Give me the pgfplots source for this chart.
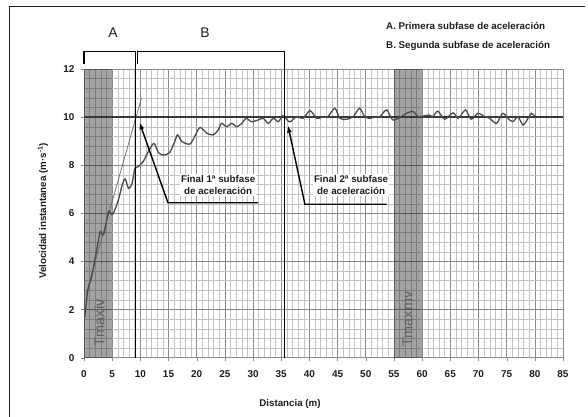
\documentclass[border=0pt]{standalone}
\usepackage{pgfplots}
\pgfplotsset{compat=1.18}
\usepackage{fontspec}
\setmainfont{Liberation Sans}
\usetikzlibrary{arrows.meta}
\definecolor{curve}{HTML}{4A4A4A}
\definecolor{majgrid}{HTML}{8C8C8C}
\definecolor{mingrid}{HTML}{C4C4C4}
\definecolor{txt}{HTML}{1E1E1E}
\begin{document}
\begin{tikzpicture}
\useasboundingbox (-84bp,-59.3bp) rectangle (504bp,357.7bp);
\draw[line width=1bp, color=txt] (-74bp,-59.3bp) -- (-74bp,350.7bp) -- (501bp,350.7bp);
\begin{axis}[
  at={(0,0)}, anchor=south west,
  scale only axis, width=479bp, height=288.7bp,
  xmin=0, xmax=85, ymin=0, ymax=12,
  xtick distance=5, ytick distance=2,
  minor x tick num=4, minor y tick num=4,
  grid=both,
  major grid style={color=majgrid, line width=0.6bp},
  minor grid style={color=mingrid, line width=0.45bp},
  axis line style={color=majgrid, line width=0.6bp},
  tick align=outside, major tick length=3bp, minor tick length=0pt,
  xtick pos=bottom, ytick pos=left,
  tick style={color=majgrid},
  /pgf/number format/assume math mode=true,
  tick label style={font=\fontsize{10}{12}\selectfont\bfseries, color=txt},
  xticklabel style={yshift=-6.5bp},
  yticklabel style={xshift=-3bp},
  clip=false,
]
% shaded bands
\addplot[draw=none, fill=black, fill opacity=0.36] coordinates {(0,0) (0,12) (5,12) (5,0)} -- cycle;
\addplot[draw=none, fill=black, fill opacity=0.36] coordinates {(55,0) (55,12) (60,12) (60,0)} -- cycle;
\node[rotate=90, color=black!62, font=\fontsize{14.5}{16}\selectfont] at (axis cs:2.7,1.45) {Tmaxiv};
\node[rotate=90, color=black!62, font=\fontsize{14.5}{16}\selectfont] at (axis cs:57.4,1.6) {Tmaxmv};
% reference line at 10
\addplot[color=black!78, line width=1.3bp] coordinates {(0,10) (85,10)};
% tangent line
\addplot[color=black!60, line width=0.7bp] coordinates {(0.3,2.6) (10.2,10.8)};
% velocity curve
\addplot[color=curve, line width=1.3bp, smooth, tension=0.45] coordinates {
(0.15,1.7) (0.6,2.68) (1.0,3.1) (1.4,3.4) (1.95,4.1) (2.5,4.8) (2.9,5.25) (3.3,5.1)
(3.6,5.2) (4.0,5.7) (4.4,6.1) (4.9,5.95) (5.3,6.05) (6.1,6.55) (6.8,7.2) (7.3,7.43)
(7.9,7.04) (8.45,7.18) (8.75,7.52) (9.04,7.87) (9.6,7.94) (10.5,8.15) (11.4,8.56)
(12.4,8.91) (13.2,8.53) (14.1,8.42) (15.2,8.53) (16.1,8.98) (16.6,9.26) (17.4,8.98)
(18.8,8.88) (19.7,9.22) (20.6,9.57) (21.8,9.33) (22.9,9.26) (23.8,9.46) (24.4,9.74)
(25.3,9.6) (26.2,9.74) (27.1,9.6) (28.0,9.74) (28.8,9.95) (29.7,9.81) (30.9,9.88)
(31.8,9.95) (32.7,9.74) (33.6,9.95) (34.5,9.81) (35.3,10.06) (36.5,9.8) (37.7,10.02)
(38.9,9.95) (40.1,10.27) (41.3,9.95) (42.3,10.0) (43.3,10.02) (44.5,10.37) (45.4,9.95)
(46.6,9.91) (47.8,10.02) (48.9,10.37) (49.8,10.02) (50.7,9.95) (51.6,10.0) (52.5,10.02)
(53.7,10.3) (54.8,9.88) (56.3,10.02) (57.2,10.16) (58.4,10.23) (59.3,10.02) (60.3,10.05)
(61.3,10.09) (61.9,10.02) (62.8,10.25) (64.0,9.91) (65.5,10.18) (66.4,9.95) (67.7,10.3)
(68.7,9.91) (69.9,10.16) (71.1,10.02) (72.0,9.95) (73.2,9.74) (74.3,10.16) (75.2,9.95)
(76.1,9.81) (77.0,10.02) (77.9,9.67) (78.8,9.95) (79.4,10.16) (80.0,10.04)
};
% phase lines and brackets
\draw[line width=1.5bp, color=black] (axis cs:0,12.2) -- (axis cs:0,12.72) -- (axis cs:9.15,12.72) -- (axis cs:9.15,0);
\draw[line width=1.5bp, color=black] (axis cs:9.5,12.2) -- (axis cs:9.5,12.72) -- (axis cs:35.6,12.72) -- (axis cs:35.6,0);
% arrows
\draw[line width=1.4bp, color=black, -{Latex[length=7bp,width=5bp]}] (axis cs:30.9,6.44) -- (axis cs:14.9,6.44) -- (axis cs:9.85,9.78);
\draw[line width=1.4bp, color=black, -{Latex[length=7bp,width=5bp]}] (axis cs:53.7,6.38) -- (axis cs:39.2,6.38) -- (axis cs:36.2,9.65);
\node[font=\fontsize{9.8}{12.5}\selectfont\bfseries, color=txt, align=center, fill=white, inner sep=1bp] at (axis cs:23.8,7.17) {Final 1ª subfase\\de aceleración};
\node[font=\fontsize{9.8}{12.5}\selectfont\bfseries, color=txt, align=center, fill=white, inner sep=1bp] at (axis cs:47.4,7.17) {Final 2ª subfase\\de aceleración};
\end{axis}
\node[font=\fontsize{14}{16}\selectfont, color=txt] at (29bp,324.7bp) {A};
\node[font=\fontsize{14}{16}\selectfont, color=txt] at (121bp,324.7bp) {B};
\node[anchor=west, font=\fontsize{9.8}{12}\selectfont\bfseries, color=txt, inner sep=0pt] at (302bp,331.7bp) {A. Primera subfase de aceleración};
\node[anchor=west, font=\fontsize{9.8}{12}\selectfont\bfseries, color=txt, inner sep=0pt] at (302bp,311.7bp) {B. Segunda subfase de aceleración};
\node[rotate=90, font=\fontsize{9.8}{12}\selectfont\bfseries, color=txt] at (-41bp,146.7bp) {Velocidad instantanea (m·s\textsuperscript{-1})};
\node[font=\fontsize{9.8}{12}\selectfont\bfseries, color=txt] at (206bp,-46.5bp) {Distancia (m)};
\end{tikzpicture}
\end{document}
